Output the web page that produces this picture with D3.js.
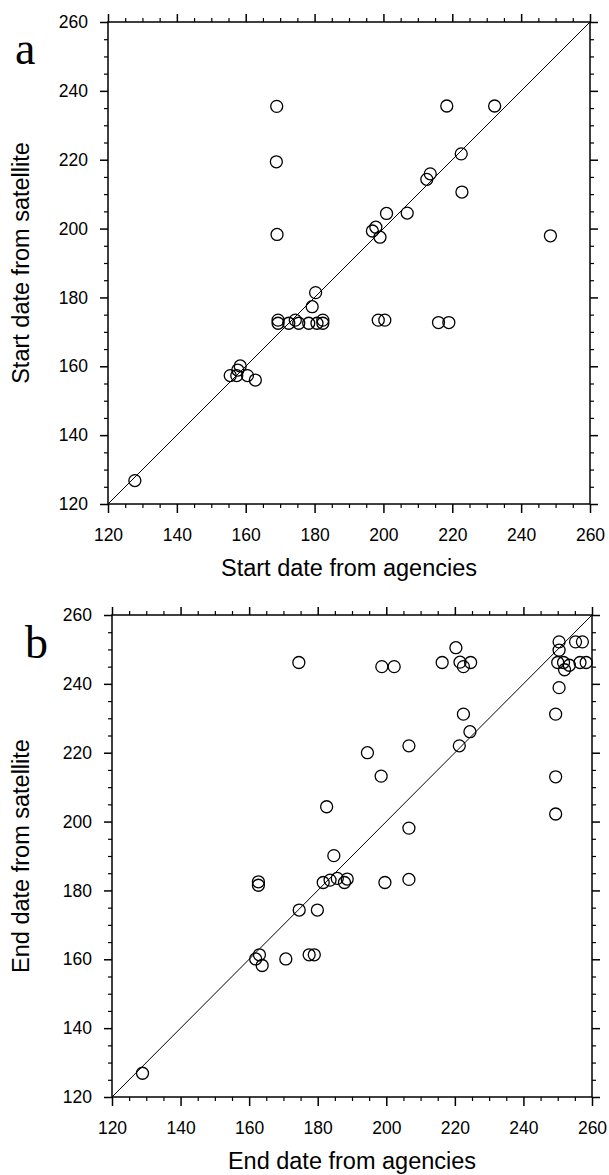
<!DOCTYPE html>
<html>
<head>
<meta charset="utf-8">
<script src="https://cdn.jsdelivr.net/npm/d3@7"></script>
<style>
  body { margin: 0; background: #fff; }
  svg text { font-family: "Liberation Sans", Arial, sans-serif; fill: #000; }
  .panel-label { font-family: "Liberation Serif", "Times New Roman", serif; }
</style>
</head>
<body>
<div id="chart"></div>
<script>
// panel a : start dates
var startAgencies = [169, 218.4, 232.3, 168.9, 222.6, 213.6, 212.6, 222.8, 200.9, 206.9, 197.8, 196.8, 199.0, 169.1, 248.5,
  180.3, 179.3, 169.4, 169.4, 172.5, 174.4, 175.4, 178.3, 180.7, 182.4, 182.4, 198.5, 200.4, 216.0, 219.0,
  158.4, 155.5, 157.4, 160.5, 162.8, 157.7, 127.8];
var startSatellite = [235.5, 235.6, 235.6, 219.4, 221.7, 215.9, 214.3, 210.6, 204.4, 204.5, 200.4, 199.3, 197.5, 198.3, 197.9,
  181.4, 177.3, 173.4, 172.5, 172.5, 173.4, 172.5, 172.5, 172.5, 173.4, 172.5, 173.4, 173.4, 172.7, 172.7,
  160.1, 157.3, 157.3, 157.3, 156.0, 158.9, 126.8];

// panel b : end dates
var endAgencies = [174.5, 198.7, 202.3, 216.3, 220.3, 221.5, 222.5, 224.6, 250.4, 250.4, 250.0, 251.7, 253.4, 252.0,
  255.2, 257.2, 256.5, 258.3, 250.4,
  222.5, 249.4, 224.4, 206.6, 221.3, 194.5, 198.5, 249.4, 182.6, 249.4, 206.6,
  184.7, 162.7, 162.7, 181.6, 183.6, 185.7, 187.8, 188.6, 199.6, 206.6, 174.6, 179.9,
  163.0, 161.9, 163.8, 170.7, 177.5, 179.0, 128.9];
var endSatellite = [246.2, 245.0, 245.0, 246.2, 250.5, 246.3, 245.0, 246.2, 252.2, 249.8, 246.2, 246.2, 245.4, 244.1,
  252.2, 252.2, 246.2, 246.2, 238.9,
  231.2, 231.2, 226.1, 222.0, 222.0, 220.0, 213.2, 213.0, 204.3, 202.2, 198.1,
  190.1, 182.5, 181.5, 182.3, 183.0, 183.5, 182.3, 183.3, 182.3, 183.2, 174.3, 174.3,
  161.3, 160.1, 158.2, 160.1, 161.3, 161.3, 126.9];

var domain = [120, 260];
var majorTicks = [120, 140, 160, 180, 200, 220, 240, 260];
var minorTicks = d3.range(120, 261, 5).filter(d => d % 20 !== 0);

var svg = d3.select("#chart").append("svg")
  .attr("width", 609)
  .attr("height", 1175);

function drawPanel(opts) {
  var x = d3.scaleLinear().domain(domain).range([opts.left, opts.right]);
  var y = d3.scaleLinear().domain(domain).range([opts.bottom, opts.top]);
  var g = svg.append("g");

  // minor ticks on all four sides
  var minorAxes = [
    [d3.axisBottom(x), `translate(0,${opts.bottom})`],
    [d3.axisTop(x), `translate(0,${opts.top})`],
    [d3.axisLeft(y), `translate(${opts.left},0)`],
    [d3.axisRight(y), `translate(${opts.right},0)`]
  ];
  minorAxes.forEach(a => {
    g.append("g")
      .attr("transform", a[1])
      .call(a[0].tickValues(minorTicks).tickSize(4).tickFormat(""))
      .call(s => s.select(".domain").remove())
      .selectAll("line").attr("stroke", "#000").attr("stroke-width", 1.2);
  });

  // major ticks
  g.append("g")
    .attr("transform", `translate(0,${opts.bottom})`)
    .call(d3.axisBottom(x).tickValues(majorTicks).tickSize(9).tickPadding(16).tickFormat(d3.format("d")))
    .call(s => s.select(".domain").remove())
    .call(s => s.selectAll("text").attr("font-size", 17.5).attr("font-family", null))
    .selectAll("line").attr("stroke", "#000").attr("stroke-width", 1.5);

  g.append("g")
    .attr("transform", `translate(${opts.left},0)`)
    .call(d3.axisLeft(y).tickValues(majorTicks).tickSize(8).tickPadding(12).tickFormat(d3.format("d")))
    .call(s => s.select(".domain").remove())
    .call(s => s.selectAll("text").attr("font-size", 17.5).attr("font-family", null))
    .selectAll("line").attr("stroke", "#000").attr("stroke-width", 1.5);

  g.append("g")
    .attr("transform", `translate(0,${opts.top})`)
    .call(d3.axisTop(x).tickValues(majorTicks).tickSize(8).tickFormat(""))
    .call(s => s.select(".domain").remove())
    .selectAll("line").attr("stroke", "#000").attr("stroke-width", 1.5);

  g.append("g")
    .attr("transform", `translate(${opts.right},0)`)
    .call(d3.axisRight(y).tickValues(majorTicks).tickSize(8).tickFormat(""))
    .call(s => s.select(".domain").remove())
    .selectAll("line").attr("stroke", "#000").attr("stroke-width", 1.5);

  // frame
  g.append("rect")
    .attr("x", x(domain[0]))
    .attr("y", y(domain[1]))
    .attr("width", x(domain[1]) - x(domain[0]))
    .attr("height", y(domain[0]) - y(domain[1]))
    .attr("fill", "none")
    .attr("stroke", "#000")
    .attr("stroke-width", 1.5);

  // 1:1 line
  g.append("line")
    .attr("x1", x(domain[0])).attr("y1", y(domain[0]))
    .attr("x2", x(domain[1])).attr("y2", y(domain[1]))
    .attr("stroke", "#000")
    .attr("stroke-width", 1);

  // points
  g.selectAll("circle")
    .data(opts.xs.map((d, i) => [d, opts.ys[i]]))
    .enter()
    .append("circle")
    .attr("cx", d => x(d[0]))
    .attr("cy", d => y(d[1]))
    .attr("r", 6)
    .attr("fill", "none")
    .attr("stroke", "#000")
    .attr("stroke-width", 1.3);

  // axis titles
  g.append("text")
    .attr("x", (opts.left + opts.right) / 2)
    .attr("y", opts.bottom + 72)
    .attr("text-anchor", "middle")
    .attr("font-size", 23.5)
    .text(opts.xTitle);

  g.append("text")
    .attr("transform", `translate(29,${(opts.top + opts.bottom) / 2}) rotate(-90)`)
    .attr("text-anchor", "middle")
    .attr("font-size", 23.5)
    .text(opts.yTitle);

  g.append("text")
    .attr("class", "panel-label")
    .attr("x", opts.labelX)
    .attr("y", opts.labelY)
    .attr("font-size", 46)
    .text(opts.label);
}

drawPanel({
  left: 108, right: 590, top: 22, bottom: 504,
  xs: startAgencies, ys: startSatellite,
  xTitle: "Start date from agencies",
  yTitle: "Start date from satellite",
  label: "a", labelX: 15, labelY: 64
});

drawPanel({
  left: 112, right: 592, top: 615, bottom: 1097,
  xs: endAgencies, ys: endSatellite,
  xTitle: "End date from agencies",
  yTitle: "End date from satellite",
  label: "b", labelX: 25, labelY: 658
});
</script>
</body>
</html>
